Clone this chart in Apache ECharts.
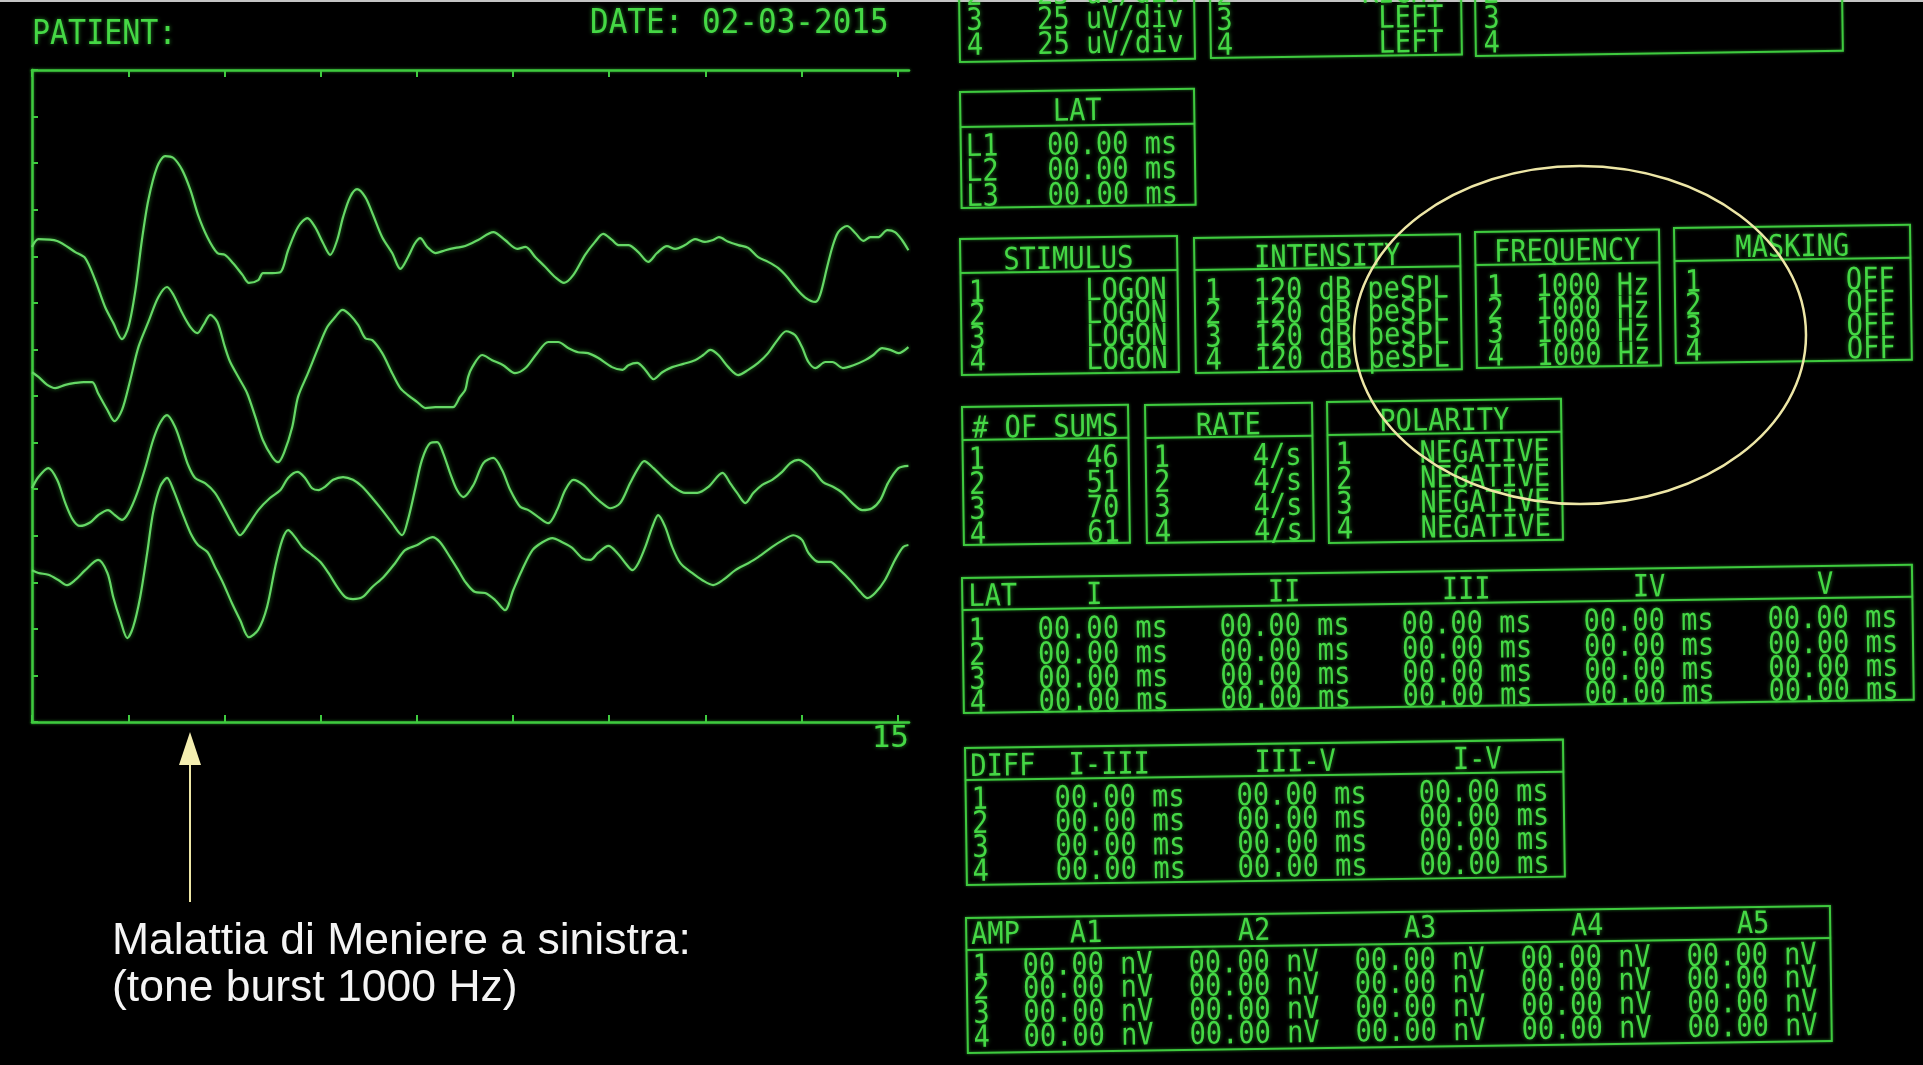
<!DOCTYPE html>
<html>
<head>
<meta charset="utf-8">
<script src="https://cdn.jsdelivr.net/npm/echarts@6/dist/echarts.min.js"></script>
<style>
  html, body { margin: 0; padding: 0; background: #000; }
  #chart { width: 1923px; height: 1065px; }
</style>
</head>
<body>
<div id="chart"></div>
<script>
// ---- Waveforms: time in ms, amplitude in screen divisions (0 = bottom of frame) ----
const trace1 = [[0,10.20],[0.11,10.37],[0.43,10.33],[0.74,10.09],[0.91,9.96],[1.08,9.49],[1.25,8.91],[1.39,8.57],[1.54,8.22],[1.65,8.48],[1.77,9.28],[1.88,10.35],[1.99,11.21],[2.14,11.92],[2.28,12.15],[2.42,12.11],[2.57,11.85],[2.71,11.42],[2.84,10.89],[3.00,10.41],[3.17,10.07],[3.30,10.03],[3.44,9.85],[3.60,9.60],[3.71,9.43],[3.87,9.49],[3.95,9.64],[4.11,9.64],[4.25,9.66],[4.38,10.13],[4.55,10.63],[4.71,10.82],[4.84,10.63],[4.98,10.28],[5.10,10.03],[5.22,10.35],[5.32,10.84],[5.44,11.27],[5.56,11.44],[5.70,11.27],[5.82,10.93],[5.99,10.41],[6.16,10.07],[6.30,9.73],[6.43,9.98],[6.55,10.28],[6.64,10.39],[6.76,10.20],[6.90,10.07],[7.07,10.13],[7.24,10.18],[7.41,10.22],[7.63,10.35],[7.89,10.52],[8.09,10.35],[8.30,10.16],[8.44,10.20],[8.61,9.98],[8.78,9.77],[8.95,9.55],[9.10,9.43],[9.26,9.60],[9.46,10.03],[9.63,10.31],[9.77,10.48],[9.92,10.35],[10.03,10.24],[10.20,10.24],[10.37,10.09],[10.54,9.88],[10.69,10.07],[10.86,10.22],[11.00,10.16],[11.17,10.24],[11.34,10.37],[11.51,10.31],[11.65,10.35],[11.75,10.41],[11.91,10.31],[12.08,10.24],[12.25,10.18],[12.42,9.98],[12.59,9.88],[12.76,9.75],[12.92,9.55],[13.05,9.34],[13.22,9.12],[13.40,9.02],[13.48,9.17],[13.60,9.77],[13.69,10.20],[13.79,10.52],[13.94,10.65],[14.08,10.50],[14.22,10.33],[14.34,10.41],[14.47,10.41],[14.63,10.56],[14.76,10.52],[14.88,10.35],[14.99,10.13]];

const trace2 = [[0,7.51],[0.11,7.41],[0.26,7.24],[0.40,7.17],[0.57,7.24],[0.74,7.28],[0.88,7.30],[1.03,7.30],[1.13,7.06],[1.29,6.70],[1.41,6.46],[1.54,6.70],[1.68,7.34],[1.82,8.05],[1.99,8.59],[2.16,9.12],[2.31,9.34],[2.42,9.17],[2.57,8.78],[2.71,8.48],[2.83,8.35],[2.93,8.52],[3.05,8.74],[3.17,8.59],[3.30,8.05],[3.39,7.73],[3.56,7.34],[3.68,7.06],[3.82,6.55],[3.95,6.05],[4.11,5.69],[4.21,5.58],[4.31,5.78],[4.45,6.33],[4.55,6.98],[4.72,7.49],[4.90,8.05],[5.05,8.48],[5.19,8.70],[5.31,8.85],[5.44,8.74],[5.58,8.52],[5.70,8.24],[5.82,8.20],[5.99,7.92],[6.16,7.49],[6.30,7.17],[6.43,7.02],[6.59,6.87],[6.73,6.74],[6.90,6.76],[7.07,6.76],[7.20,6.76],[7.32,6.98],[7.41,7.13],[7.46,7.41],[7.53,7.62],[7.70,7.88],[7.87,7.77],[8.06,7.66],[8.26,7.49],[8.44,7.60],[8.64,7.92],[8.83,8.16],[9.00,8.16],[9.17,8.03],[9.34,7.94],[9.51,7.92],[9.68,7.82],[9.92,7.62],[10.10,7.56],[10.20,7.66],[10.35,7.71],[10.49,7.56],[10.63,7.36],[10.78,7.51],[10.95,7.62],[11.14,7.69],[11.34,7.77],[11.48,7.88],[11.60,7.99],[11.74,7.88],[11.91,7.62],[12.08,7.45],[12.25,7.56],[12.42,7.71],[12.59,7.92],[12.75,8.20],[12.90,8.39],[13.05,8.31],[13.17,8.05],[13.28,7.73],[13.40,7.60],[13.57,7.73],[13.69,7.73],[13.87,7.60],[14.05,7.66],[14.25,7.77],[14.39,7.88],[14.54,8.03],[14.68,7.99],[14.82,7.92],[14.99,8.05]];

const trace3 = [[0,5.02],[0.11,5.26],[0.28,5.45],[0.43,5.20],[0.57,4.70],[0.70,4.34],[0.82,4.21],[1.00,4.29],[1.13,4.44],[1.30,4.55],[1.42,4.44],[1.54,4.34],[1.65,4.49],[1.80,4.92],[1.94,5.47],[2.07,6.05],[2.19,6.42],[2.31,6.59],[2.45,6.33],[2.57,5.90],[2.67,5.52],[2.79,5.24],[2.96,5.13],[3.13,4.92],[3.30,4.55],[3.42,4.27],[3.56,4.01],[3.70,4.23],[3.87,4.55],[4.07,4.81],[4.25,4.98],[4.38,5.24],[4.54,5.37],[4.67,5.24],[4.79,5.02],[4.90,4.98],[5.01,5.05],[5.15,5.20],[5.32,5.26],[5.49,5.20],[5.65,5.05],[5.82,4.81],[5.99,4.55],[6.16,4.27],[6.33,4.01],[6.43,4.34],[6.55,4.98],[6.67,5.63],[6.81,5.99],[6.93,6.01],[7.03,5.78],[7.15,5.35],[7.27,4.98],[7.38,4.83],[7.55,5.09],[7.72,5.56],[7.89,5.67],[8.04,5.41],[8.18,4.98],[8.35,4.62],[8.49,4.55],[8.66,4.40],[8.83,4.27],[8.98,4.55],[9.12,4.98],[9.26,5.20],[9.43,5.09],[9.60,4.87],[9.75,4.70],[9.89,4.59],[10.06,4.70],[10.23,5.13],[10.37,5.45],[10.47,5.60],[10.63,5.45],[10.80,5.24],[10.97,5.05],[11.17,4.92],[11.38,4.92],[11.57,5.05],[11.81,5.35],[11.94,5.13],[12.06,4.92],[12.20,4.70],[12.34,4.92],[12.49,5.09],[12.66,5.20],[12.83,5.37],[12.97,5.56],[13.11,5.63],[13.26,5.52],[13.40,5.35],[13.53,5.15],[13.70,5.05],[13.86,4.92],[14.03,4.70],[14.20,4.55],[14.37,4.59],[14.51,4.77],[14.64,5.13],[14.82,5.45],[14.99,5.50]];

const trace4 = [[0,3.26],[0.11,3.20],[0.28,3.16],[0.45,3.05],[0.60,2.94],[0.74,3.05],[0.91,3.26],[1.13,3.48],[1.29,3.20],[1.39,2.68],[1.51,2.19],[1.63,1.80],[1.73,2.04],[1.85,2.68],[1.97,3.63],[2.07,4.49],[2.19,5.05],[2.31,5.24],[2.42,4.98],[2.57,4.49],[2.71,4.06],[2.84,3.80],[3.00,3.65],[3.13,3.33],[3.27,2.98],[3.42,2.55],[3.56,2.19],[3.71,1.82],[3.87,1.98],[4.02,2.47],[4.16,3.33],[4.28,3.91],[4.38,4.12],[4.50,3.97],[4.62,3.76],[4.79,3.59],[4.93,3.44],[5.07,3.20],[5.22,2.90],[5.36,2.68],[5.49,2.64],[5.65,2.68],[5.82,2.90],[6.01,3.11],[6.21,3.41],[6.38,3.69],[6.59,3.80],[6.73,3.91],[6.85,3.97],[6.98,3.86],[7.15,3.54],[7.29,3.26],[7.41,3.01],[7.58,2.79],[7.75,2.77],[7.92,2.62],[8.09,2.40],[8.23,2.83],[8.38,3.26],[8.56,3.69],[8.73,3.86],[8.90,3.95],[9.07,3.86],[9.24,3.74],[9.41,3.52],[9.55,3.48],[9.68,3.63],[9.86,3.78],[10.01,3.63],[10.15,3.41],[10.27,3.26],[10.37,3.41],[10.49,3.76],[10.61,4.19],[10.71,4.44],[10.83,4.19],[10.95,3.76],[11.09,3.41],[11.29,3.20],[11.46,3.05],[11.65,2.94],[11.82,3.05],[12.03,3.26],[12.25,3.41],[12.42,3.54],[12.66,3.76],[12.85,3.91],[13.02,4.01],[13.17,3.91],[13.28,3.63],[13.45,3.44],[13.65,3.44],[13.82,3.26],[13.99,3.05],[14.17,2.79],[14.29,2.66],[14.42,2.77],[14.59,3.05],[14.76,3.48],[14.90,3.76],[14.99,3.80]];

// ---- Axis ticks ----
const timeTicksMs = [0, 1.65, 3.29, 4.94, 6.58, 8.23, 9.87, 11.52, 13.16, 14.81];
const timeLabelsMs = [15];

// ---- Header ----
const patientLabel = 'PATIENT:';
const dateLabel = 'DATE: 02-03-2015';

// ---- Settings panels ----
const channels = ['1', '2', '3', '4'];
const topRowChannels = ['2', '3', '4'];
const gainPerDiv = ['25 uV/div', '25 uV/div', '25 uV/div'];
const earSide = ['RIGHT', 'LEFT', 'LEFT'];
const markerLatLabels = ['L1', 'L2', 'L3'];
const markerLatMs = ['00.00', '00.00', '00.00'];
const stimulusType = ['LOGON', 'LOGON', 'LOGON', 'LOGON'];
const intensityDb = [120, 120, 120, 120];
const frequencyHz = [1000, 1000, 1000, 1000];
const maskingState = ['OFF', 'OFF', 'OFF', 'OFF'];
const sweepSums = [46, 51, 70, 61];
const ratePerSec = [4, 4, 4, 4];
const polarityMode = ['NEGATIVE', 'NEGATIVE', 'NEGATIVE', 'NEGATIVE'];
const waveNames = ['I', 'II', 'III', 'IV', 'V'];
const waveLatMs = [
  ['00.00', '00.00', '00.00', '00.00', '00.00'],
  ['00.00', '00.00', '00.00', '00.00', '00.00'],
  ['00.00', '00.00', '00.00', '00.00', '00.00'],
  ['00.00', '00.00', '00.00', '00.00', '00.00']
];
const diffNames = ['I-III', 'III-V', 'I-V'];
const diffMs = [
  ['00.00', '00.00', '00.00'],
  ['00.00', '00.00', '00.00'],
  ['00.00', '00.00', '00.00'],
  ['00.00', '00.00', '00.00']
];
const ampNames = ['A1', 'A2', 'A3', 'A4', 'A5'];
const ampNv = [
  ['00.00', '00.00', '00.00', '00.00', '00.00'],
  ['00.00', '00.00', '00.00', '00.00', '00.00'],
  ['00.00', '00.00', '00.00', '00.00', '00.00'],
  ['00.00', '00.00', '00.00', '00.00', '00.00']
];
const noteLines = ['Malattia di Meniere a sinistra:', '(tone burst 1000 Hz)'];

// ---- Styling ----
const GREEN_TEXT = '#45d845';
const GREEN_LINE = '#3fca3f';
const GREEN_TRACE = '#66d866';
const GLOW = 'rgba(70,230,70,0.55)';
const NOTE_YELLOW = '#ede6a6';
const MONO = '"DejaVu Sans Mono", "Liberation Mono", monospace';
const TILT = 0.014;
const TEXT_DROP = 3;   // canvas 'middle' sits a little above the cap centre

// monospace screen text, stretched a little vertically like the CRT glyphs
function label(x, y, text, align, size, stretch) {
  const a = align || 'left';
  return {
    type: 'text', x: x, y: y + TEXT_DROP, silent: true,
    scaleY: stretch || 1.14,
    style: {
      text: String(text), fill: GREEN_TEXT,
      font: (size || 27) + 'px ' + MONO,
      align: a, verticalAlign: 'middle',
      textAlign: a, textVerticalAlign: 'middle',
      textShadowBlur: 4, textShadowColor: GLOW
    }
  };
}

function panel(x, y, w, h, headH, children) {
  const els = [{
    type: 'rect', shape: { x: 0, y: 0, width: w, height: h },
    style: { fill: 'none', stroke: GREEN_LINE, lineWidth: 2, shadowBlur: 3, shadowColor: GLOW }
  }];
  if (headH) {
    els.push({
      type: 'line', shape: { x1: 0, y1: headH, x2: w, y2: headH },
      style: { stroke: GREEN_LINE, lineWidth: 2, shadowBlur: 3, shadowColor: GLOW }
    });
  }
  return { type: 'group', x: x, y: y, rotation: TILT, children: els.concat(children) };
}

function rowsOf(list, fn) {
  const out = [];
  list.forEach(function (v, i) { fn(v, i).forEach(function (e) { out.push(e); }); });
  return out;
}

const rowsTop = [74, 99, 124];
const panels = [];

// partially visible top row
panels.push(panel(958, -80, 235, 142, 0, rowsOf(topRowChannels, function (c, i) {
  return [label(7, rowsTop[i], c), label(224, rowsTop[i], gainPerDiv[i], 'right')];
})));
panels.push(panel(1209, -80, 251, 138, 0, rowsOf(topRowChannels, function (c, i) {
  return [label(6, rowsTop[i], c), label(233, rowsTop[i], earSide[i], 'right')];
})));
panels.push(panel(1474, -80, 367, 136, 0, rowsOf(topRowChannels, function (c, i) {
  return [label(8, rowsTop[i] - 2, c)];
})));

// marker latencies
panels.push(panel(960, 92, 234, 116, 35, [label(117, 19, 'LAT', 'center')].concat(
  rowsOf(markerLatLabels, function (c, i) {
    return [label(5, 53 + 25 * i, c + '   ' + markerLatMs[i] + ' ms')];
  }))));

// stimulus / intensity / frequency / masking
const r4 = [52, 75, 98, 121];
panels.push(panel(960, 239, 217, 136, 34, [label(108, 20, 'STIMULUS', 'center')].concat(
  rowsOf(channels, function (c, i) {
    return [label(8, r4[i], c), label(206, r4[i], stimulusType[i], 'right')];
  }))));
panels.push(panel(1194, 238, 266, 135, 32, [label(133, 19, 'INTENSITY', 'center')].concat(
  rowsOf(channels, function (c, i) {
    return [label(10, r4[i], c + '  ' + intensityDb[i] + ' dB peSPL')];
  }))));
panels.push(panel(1475, 232, 184, 136, 33, [label(92, 19, 'FREQUENCY', 'center')].concat(
  rowsOf(channels, function (c, i) {
    return [label(11, r4[i] + 2, c + '  ' + frequencyHz[i] + ' Hz')];
  }))));
panels.push(panel(1674, 228, 236, 135, 33, [label(118, 19, 'MASKING', 'center')].concat(
  rowsOf(channels, function (c, i) {
    return [label(10, r4[i] + 1, c), label(220, r4[i] + 1, maskingState[i], 'right')];
  }))));

// sums / rate / polarity
const r5 = [51, 76, 101, 126];
panels.push(panel(962, 407, 166, 138, 33, [label(83, 20, '# OF SUMS', 'center')].concat(
  rowsOf(channels, function (c, i) {
    return [label(6, r5[i], c), label(156, r5[i], sweepSums[i], 'right')];
  }))));
panels.push(panel(1145, 405, 167, 138, 33, [label(83, 20, 'RATE', 'center')].concat(
  rowsOf(channels, function (c, i) {
    return [label(8, r5[i], c), label(156, r5[i], ratePerSec[i] + '/s', 'right')];
  }))));
panels.push(panel(1327, 402, 234, 141, 33, [label(117, 19, 'POLARITY', 'center')].concat(
  rowsOf(channels, function (c, i) {
    return [label(8, r5[i], c), label(222, r5[i], polarityMode[i], 'right')];
  }))));

// wave latencies
const latHeadX = [132, 322, 504, 687, 863];
const latValX = [75, 257, 439, 621, 805];
const r6 = [51, 76, 100, 123];
panels.push(panel(962, 578, 950, 135, 32,
  [label(6, 17, 'LAT')].concat(waveNames.map(function (n, j) { return label(latHeadX[j], 17, n, 'center'); }),
  rowsOf(channels, function (c, i) {
    return [label(6, r6[i], c)].concat(waveLatMs[i].map(function (v, j) { return label(latValX[j], r6[i], v + ' ms'); }));
  }))));

// interpeak differences
const diffHeadX = [144, 330, 512];
const diffValX = [89, 271, 453];
const r7 = [50, 74, 98, 122];
panels.push(panel(965, 748, 598, 137, 32,
  [label(5, 17, 'DIFF')].concat(diffNames.map(function (n, j) { return label(diffHeadX[j], 17, n, 'center'); }),
  rowsOf(channels, function (c, i) {
    return [label(6, r7[i], c)].concat(diffMs[i].map(function (v, j) { return label(diffValX[j], r7[i], v + ' ms'); }));
  }))));

// amplitudes
const ampHeadX = [120, 288, 454, 621, 787];
const ampValX = [56, 222, 388, 554, 720];
const r8 = [47, 70, 94, 118];
panels.push(panel(966, 918, 864, 135, 32,
  [label(5, 15, 'AMP')].concat(ampNames.map(function (n, j) { return label(ampHeadX[j], 15, n, 'center'); }),
  rowsOf(channels, function (c, i) {
    return [label(6, r8[i], c)].concat(ampNv[i].map(function (v, j) { return label(ampValX[j], r8[i], v + ' nV'); }));
  }))));

const chart = echarts.init(document.getElementById('chart'), null, { renderer: 'canvas' });

const axisLineStyle = { color: GREEN_LINE, width: 2.5, shadowBlur: 3, shadowColor: GLOW };
const tickStyle = { color: GREEN_LINE, width: 2 };

function traceSeries(name, data) {
  return {
    name: name, type: 'line', data: data,
    showSymbol: false, smooth: 0.3, silent: true,
    lineStyle: { color: GREEN_TRACE, width: 2.2, shadowBlur: 4, shadowColor: GLOW }
  };
}

chart.setOption({
  backgroundColor: '#000000',
  animation: false,
  grid: { left: 32, top: 70, width: 877, height: 652, containLabel: false },
  xAxis: [
    {
      type: 'value', min: 0, max: 15, position: 'bottom',
      axisLine: { show: true, onZero: false, lineStyle: axisLineStyle },
      axisTick: { show: true, inside: true, length: 7, customValues: timeTicksMs, lineStyle: tickStyle },
      axisLabel: {
        show: true, customValues: timeLabelsMs, align: 'right', margin: 1,
        color: GREEN_TEXT, fontFamily: MONO, fontSize: 31,
        textShadowBlur: 4, textShadowColor: GLOW
      },
      splitLine: { show: false }
    },
    {
      type: 'value', min: 0, max: 15, position: 'top',
      axisLine: { show: true, onZero: false, lineStyle: axisLineStyle },
      axisTick: { show: true, inside: true, length: 7, customValues: timeTicksMs, lineStyle: tickStyle },
      axisLabel: { show: false },
      splitLine: { show: false }
    }
  ],
  yAxis: {
    type: 'value', min: 0, max: 14, interval: 1,
    axisLine: { show: true, onZero: false, lineStyle: axisLineStyle },
    axisTick: { show: true, inside: true, length: 6, lineStyle: tickStyle },
    axisLabel: { show: false },
    splitLine: { show: false }
  },
  series: [
    traceSeries('1', trace1),
    traceSeries('2', trace2),
    traceSeries('3', trace3),
    traceSeries('4', trace4)
  ],
  graphic: [
    { type: 'rect', shape: { x: 0, y: 0, width: 1923, height: 2 }, style: { fill: '#c4c4c4' }, silent: true },
    label(32, 32, patientLabel, 'left', 30, 1.1),
    label(590, 21, dateLabel, 'left', 31, 1.1),
    { type: 'group', silent: true, children: panels },
    {
      type: 'ellipse', silent: true, z: 120,
      shape: { cx: 1580, cy: 335, rx: 226, ry: 169 },
      style: { fill: 'none', stroke: NOTE_YELLOW, lineWidth: 2.5 }
    },
    {
      type: 'line', silent: true, z: 120,
      shape: { x1: 190, y1: 902, x2: 190, y2: 760 },
      style: { stroke: NOTE_YELLOW, lineWidth: 2 }
    },
    {
      type: 'polygon', silent: true, z: 120,
      shape: { points: [[190, 732], [179, 765], [201, 765]] },
      style: { fill: '#f4eeb0' }
    },
    {
      type: 'text', x: 112, y: 942, silent: true, z: 120,
      style: {
        text: noteLines[0], fill: '#f4f4f4', font: '44.5px "Liberation Sans", Arial, sans-serif',
        align: 'left', verticalAlign: 'middle', textAlign: 'left', textVerticalAlign: 'middle'
      }
    },
    {
      type: 'text', x: 112, y: 989, silent: true, z: 120,
      style: {
        text: noteLines[1], fill: '#f4f4f4', font: '44.5px "Liberation Sans", Arial, sans-serif',
        align: 'left', verticalAlign: 'middle', textAlign: 'left', textVerticalAlign: 'middle'
      }
    }
  ]
});
</script>
</body>
</html>
